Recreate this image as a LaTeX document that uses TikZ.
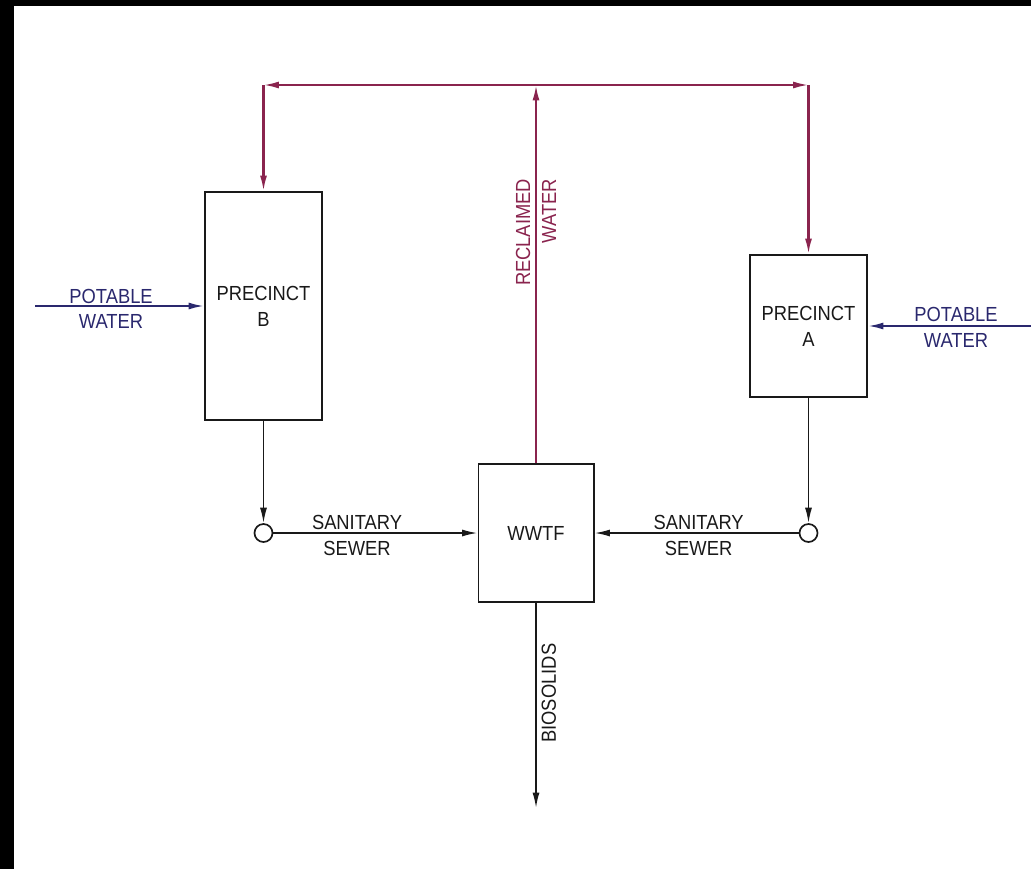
\documentclass[tikz,border=0pt]{standalone}
\usepackage{fontspec}
\setmainfont[FakeStretch=0.9]{Liberation Sans}
\usepackage{xcolor}
\usepackage{tikz}
\usetikzlibrary{arrows.meta}
\definecolor{reclaimred}{RGB}{138,36,78}
\definecolor{potableblue}{RGB}{42,40,110}
\definecolor{lineblack}{RGB}{25,25,25}
\tikzstyle{box} = [
    rectangle,
    draw=lineblack,
    line width=1.4pt,
    text=lineblack,
    align=center
]
\tikzstyle{manhole} = [circle, draw=lineblack, line width=1.2pt, minimum size=0.45cm, inner sep=0pt]
\tikzstyle{flowarrow} = [line width=1.2pt, draw=lineblack, -{Latex[length=11pt,width=5pt]}]
\tikzstyle{reclaimarrow} = [line width=1.5pt, draw=reclaimred, -{Latex[length=11pt,width=5pt]}]
\tikzstyle{potablearrow} = [line width=1.4pt, draw=potableblue, -{Latex[length=11pt,width=5pt]}]
\tikzstyle{flowlabel} = [align=center, text=lineblack]

\begin{document}
\begin{tikzpicture}[x=0.025cm, y=-0.025cm, font=\fontsize{14.5}{18.4}\selectfont]
    \useasboundingbox (0,0) rectangle (1031,869);
    \fill[black] (0,0) rectangle (1031,6);
    \fill[black] (0,0) rectangle (14,869);
    % Kästen
    \node (boxb) [box, minimum width=2.925cm, minimum height=5.7cm] at (263.5,306) {PRECINCT\\B};
    \node (boxa) [box, minimum width=2.925cm, minimum height=3.55cm] at (808.5,326) {PRECINCT\\A};
    \node (wwtf) [box, minimum width=2.875cm, minimum height=3.45cm] at (536,533) {WWTF};
    \node (cb) [manhole] at (boxb.south |- wwtf) {};
    \node (ca) [manhole] at (boxa.south |- wwtf) {};
    % Hilfspunkte
    \coordinate (top) at (536,85);
    \coordinate (tl) at (boxb.north |- top);
    \coordinate (tr) at (boxa.north |- top);
    \coordinate (pbin) at (35,306);
    \coordinate (pain) at (1031,326);
    \coordinate (solids) at (536,808);
    % Pfeile
    \draw [potablearrow] (pbin) -- node[pos=0.45, flowlabel, text=potableblue, yshift=-2pt] {POTABLE\\WATER} (boxb);
    \draw [potablearrow] (pain) -- node[pos=0.46, flowlabel, text=potableblue, yshift=-1pt] {POTABLE\\WATER} (boxa);
    \draw [flowarrow] (boxb) -- (cb);
    \draw [flowarrow] (boxa) -- (ca);
    \draw [flowarrow] (cb) -- node[pos=0.41, flowlabel, yshift=-1.5pt] {SANITARY\\SEWER} (wwtf);
    \draw [flowarrow] (ca) -- node[pos=0.49, flowlabel, yshift=-1.5pt] {SANITARY\\SEWER} (wwtf);
    \draw [flowarrow] (wwtf) -- node[pos=0.44, rotate=90, below, flowlabel] {BIOSOLIDS} (solids);
    \draw [reclaimarrow] (wwtf) -- node[pos=0.61, rotate=90, align=right, text=reclaimred] {RECLAIMED\\WATER} (top);
    \draw [reclaimarrow, {Latex[length=11pt,width=5pt]}-{Latex[length=11pt,width=5pt]}] (tl) -- (tr);
    \draw [reclaimarrow] (tl) -- (boxb);
    \draw [reclaimarrow] (tr) -- (boxa);
\end{tikzpicture}
\end{document}
